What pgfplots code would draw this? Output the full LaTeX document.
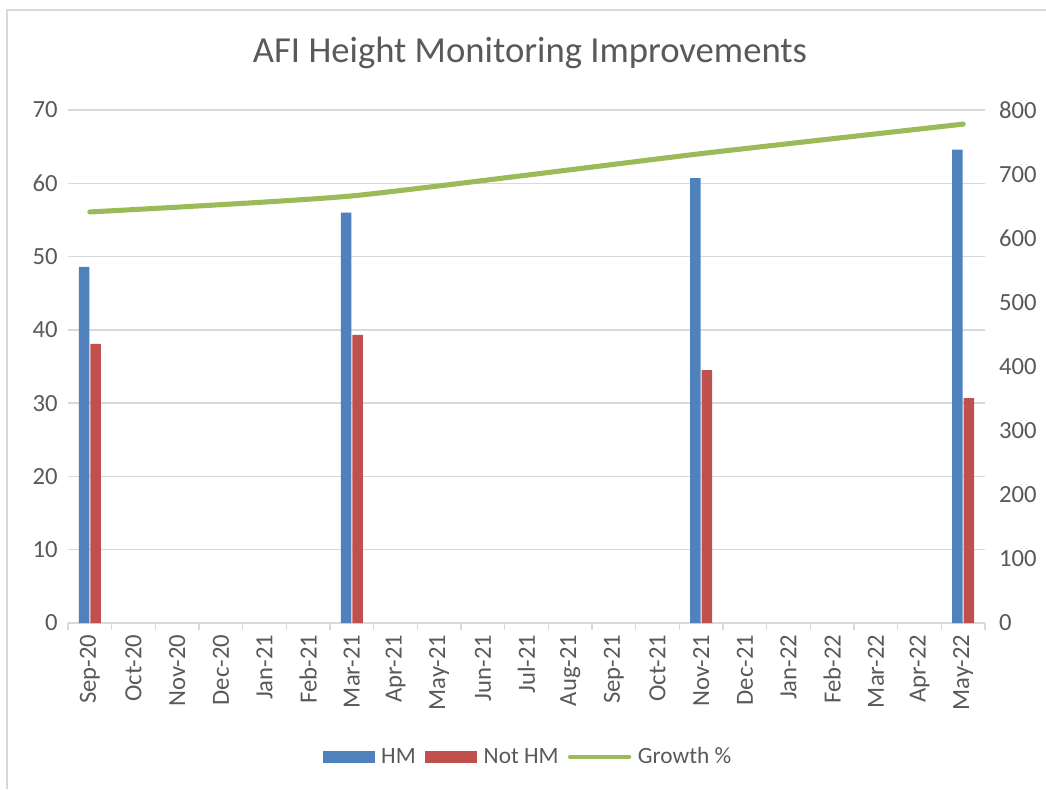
\documentclass[border=0pt]{standalone}
\usepackage{pgfplots}
\pgfplotsset{compat=1.18}
\usepackage{fontspec}
\setmainfont{Carlito}
\definecolor{hmblue}{HTML}{4F81BD}
\definecolor{hmred}{HTML}{C0504D}
\definecolor{hmgreen}{HTML}{9BBB59}
\definecolor{txt}{HTML}{595959}
\definecolor{gridc}{HTML}{D9D9D9}
\begin{document}
\begin{tikzpicture}
\path[use as bounding box] (0,0) rectangle (784.5pt,591.75pt);
\draw[gridc, line width=1.2pt] (5.25pt,0) -- (5.25pt,584.25pt) -- (786pt,584.25pt);
\node[text=txt, font=\fontsize{27.5}{32}\selectfont] at (397.5pt,552pt) {AFI Height Monitoring Improvements};
\begin{axis}[
  at={(51pt,124.5pt)}, anchor=south west,
  scale only axis, width=687.75pt, height=384.75pt,
  xmin=-0.5, xmax=20.5, ymin=0, ymax=70,
  ybar=0.8pt, bar width=7.9pt,
  axis x line*=bottom, axis y line*=left,
  y axis line style={draw=none},
  x axis line style={gridc, line width=1pt},
  xtick={0,...,20},
  xticklabels={Sep-20,Oct-20,Nov-20,Dec-20,Jan-21,Feb-21,Mar-21,Apr-21,May-21,Jun-21,Jul-21,Aug-21,Sep-21,Oct-21,Nov-21,Dec-21,Jan-22,Feb-22,Mar-22,Apr-22,May-22},
  xticklabel style={rotate=90, anchor=east, text=txt, font=\fontsize{18.5}{22}\selectfont, xshift=-1pt},
  major x tick style={draw=none},
  minor xtick={-0.5,0.5,...,20.5},
  minor x tick style={gridc, line width=1pt},
  minor tick length=5.5pt,
  tick align=outside,
  ytick={0,10,...,70},
  major y tick style={draw=none},
  yticklabel style={text=txt, font=\fontsize{18.5}{22}\selectfont},
  /pgf/number format/assume math mode=true,
  ymajorgrids, grid style={gridc, line width=1pt},
  legend columns=3,
  legend style={at={(0.502,-0.261)}, anchor=center, draw=none, fill=none,
    font=\fontsize{17.5}{20}\selectfont, text=txt,
    /tikz/every odd column/.append style={column sep=3pt},
    /tikz/every even column/.append style={column sep=5pt}},
  legend cell align=left,
]
\addplot[fill=hmblue, draw=none, area legend,
  legend image code/.code={\fill[hmblue] (0pt,-4.5pt) rectangle (39pt,4.5pt);}]
  coordinates {(0,48.6) (6,56.0) (14,60.7) (20,64.6)};
\addlegendentry{HM}
\addplot[fill=hmred, draw=none, area legend,
  legend image code/.code={\fill[hmred] (0pt,-4.5pt) rectangle (39pt,4.5pt);}]
  coordinates {(0,38.1) (6,39.3) (14,34.5) (20,30.7)};
\addlegendentry{Not HM}
\addlegendimage{hmgreen, line width=3.5pt, legend image code/.code={\draw[hmgreen, line width=3.5pt, line cap=round] (0pt,0pt) -- (44pt,0pt);}}
\addlegendentry{Growth \%}
\end{axis}
\begin{axis}[
  at={(51pt,124.5pt)}, anchor=south west,
  scale only axis, width=687.75pt, height=384.75pt,
  xmin=-0.5, xmax=20.5, ymin=0, ymax=800,
  axis x line=none, axis y line*=right,
  y axis line style={draw=none},
  ytick={0,100,...,800},
  major y tick style={draw=none},
  yticklabel style={text=txt, font=\fontsize{18.5}{22}\selectfont, xshift=7pt},
  /pgf/number format/assume math mode=true,
]
\addplot[hmgreen, line width=3.8pt, line cap=round, smooth, tension=0.3]
  coordinates {(0,641) (6,666) (14,732) (20,778)};
\end{axis}
\end{tikzpicture}
\end{document}
